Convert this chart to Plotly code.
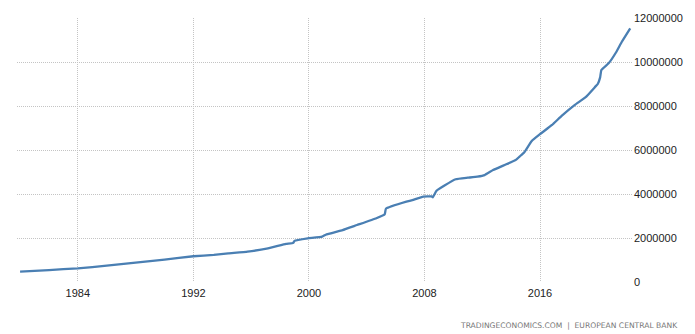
import plotly.graph_objects as go

dates = [
    "1980-01-01", "1982-01-01", "1984-01-01", "1986-01-01", "1988-01-01", "1990-01-01",
    "1992-01-01", "1993-06-01", "1994-06-01", "1995-10-01", "1997-03-01", "1998-06-01",
    "1998-12-01", "1999-01-01", "1999-12-01", "2000-12-01", "2001-03-01", "2002-05-01",
    "2003-05-01", "2004-09-01", "2005-04-01", "2005-05-01", "2006-10-01", "2007-03-01",
    "2007-12-01", "2008-07-01", "2008-08-01", "2008-11-01", "2009-06-01", "2010-03-01",
    "2011-01-01", "2011-09-01", "2012-03-01", "2012-10-01", "2013-09-01", "2014-05-01",
    "2014-08-01", "2014-12-01", "2015-06-01", "2016-01-01", "2016-11-01", "2017-07-01",
    "2018-06-01", "2019-03-01", "2019-11-01", "2020-01-01", "2020-03-01", "2020-04-01",
    "2020-10-01", "2021-04-01", "2021-09-01", "2022-04-01",
]
m3_values = [
    468000, 540000, 623000, 740000, 880000, 1020000,
    1170000, 1230000, 1300000, 1380000, 1530000, 1730000,
    1780000, 1870000, 1980000, 2060000, 2150000, 2360000,
    2590000, 2900000, 3080000, 3330000, 3650000, 3720000,
    3880000, 3890000, 3850000, 4150000, 4400000, 4670000,
    4740000, 4790000, 4860000, 5090000, 5350000, 5550000,
    5700000, 5900000, 6400000, 6720000, 7140000, 7550000,
    8050000, 8400000, 8880000, 9000000, 9300000, 9640000,
    9940000, 10420000, 10920000, 11530000,
]

y_ticks = [0, 2000000, 4000000, 6000000, 8000000, 10000000, 12000000]
y_tick_labels = ["0", "2000000", "4000000", "6000000", "8000000", "10000000", "12000000"]
x_tick_vals = ["1984-01-01", "1992-01-01", "2000-01-01", "2008-01-01", "2016-01-01"]
x_tick_labels = ["1984", "1992", "2000", "2008", "2016"]
source_text = "TRADINGECONOMICS.COM  |  EUROPEAN CENTRAL BANK"

fig = go.Figure()
fig.add_trace(go.Scatter(
    x=dates, y=m3_values, mode="lines",
    line=dict(color="#4a7fb3", width=2.3, shape="spline", smoothing=0.3),
    hoverinfo="x+y",
))

grid = dict(showgrid=True, gridcolor="#c4c4c4", griddash="1px,1px", gridwidth=1)
fig.update_layout(
    width=695, height=334,
    margin=dict(l=17, r=57, t=17, b=52),
    paper_bgcolor="white", plot_bgcolor="white",
    showlegend=False,
    font=dict(family="Liberation Sans, Arial, sans-serif", size=11, color="#222"),
    xaxis=dict(
        range=["1979-10-15", "2022-06-10"],
        tickvals=x_tick_vals, ticktext=x_tick_labels,
        showline=False, zeroline=False, ticks="",
        tickfont=dict(size=11, color="#222"),
        ticklabelstandoff=3,
        **grid,
    ),
    yaxis=dict(
        side="right", range=[0, 12000000],
        tickvals=y_ticks, ticktext=y_tick_labels,
        showline=False, zeroline=False, ticks="",
        tickfont=dict(size=11, color="#222"),
        **grid,
    ),
    annotations=[dict(
        text=source_text, xref="paper", yref="paper",
        x=1.077, y=-0.14, xanchor="right", yanchor="top", showarrow=False,
        font=dict(family="DejaVu Sans, sans-serif", size=7.6, color="#777"),
    )],
)

fig.write_html("out.html")
